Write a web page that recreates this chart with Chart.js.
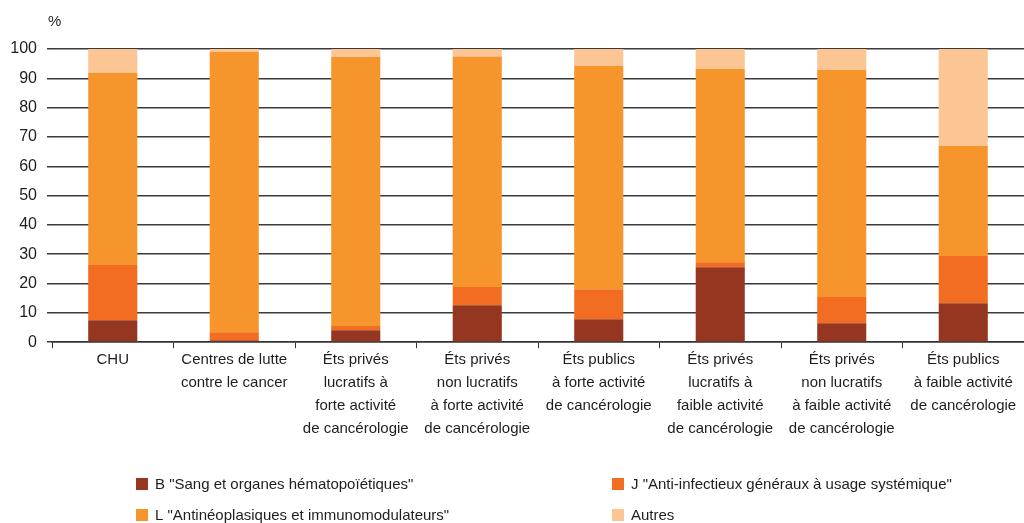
<!DOCTYPE html>
<html lang="fr">
<head>
<meta charset="utf-8">
<title>Dépenses de médicaments par classe ATC et type d'établissement</title>
<script src="https://cdn.jsdelivr.net/npm/chart.js@4/dist/chart.umd.min.js"></script>
<style>
  html, body { margin: 0; padding: 0; background: #fff; }
  #wrap { width: 1024px; height: 523px; position: relative; }
</style>
</head>
<body>
<div id="wrap"><canvas id="chart" width="1024" height="523"></canvas></div>
<script>
// Catégories d'établissements (libellés sur plusieurs lignes)
const categories = [
  ["CHU"],
  ["Centres de lutte", "contre le cancer"],
  ["Éts privés", "lucratifs à", "forte activité", "de cancérologie"],
  ["Éts privés", "non lucratifs", "à forte activité", "de cancérologie"],
  ["Éts publics", "à forte activité", "de cancérologie"],
  ["Éts privés", "lucratifs à", "faible activité", "de cancérologie"],
  ["Éts privés", "non lucratifs", "à faible activité", "de cancérologie"],
  ["Éts publics", "à faible activité", "de cancérologie"]
];

// Parts (%) par classe ATC
const sangOrganes      = [7.5, 0.7, 4.1, 12.6, 7.8, 25.6, 6.5, 13.3];
const antiInfectieux   = [18.8, 2.7, 1.4, 6.2, 10.3, 1.7, 8.9, 16.1];
const antineoplasiques = [65.6, 95.7, 91.8, 78.6, 76.1, 65.9, 77.4, 37.6];
const autres           = [8.1, 0.9, 2.7, 2.6, 5.8, 6.8, 7.2, 33.0];

const seriesLabels = [
  'B "Sang et organes hématopoïétiques"',
  'J "Anti-infectieux généraux à usage systémique"',
  'L "Antinéoplasiques et immunomodulateurs"',
  'Autres'
];
const yTicks = [0, 10, 20, 30, 40, 50, 60, 70, 80, 90, 100];

const colors = ['#953720', '#f26d21', '#f7952d', '#fbc693'];
const FONT = '"Liberation Sans", Arial, sans-serif';
const TEXT = '#1e1e1e';

// Légende en deux colonnes et unité de l'axe vertical
const extrasPlugin = {
  id: 'extras',
  afterDraw(chart) {
    const ctx = chart.ctx;
    ctx.save();
    ctx.font = '15px ' + FONT;
    ctx.fillStyle = TEXT;
    ctx.textBaseline = 'middle';
    ctx.textAlign = 'left';
    ctx.fillText('%', 48, 22);
    const cols = [136, 612];
    const rows = [484, 515];
    chart.data.datasets.forEach((ds, i) => {
      const x = cols[i % 2];
      const y = rows[Math.floor(i / 2)];
      ctx.fillStyle = ds.backgroundColor;
      ctx.fillRect(x, y - 6, 12, 12);
      ctx.fillStyle = TEXT;
      ctx.fillText(ds.label, x + 19, y + 1);
    });
    ctx.restore();
  }
};

const values = [sangOrganes, antiInfectieux, antineoplasiques, autres];

new Chart(document.getElementById('chart'), {
  type: 'bar',
  data: {
    labels: categories,
    datasets: values.map((v, i) => ({
      label: seriesLabels[i],
      data: v,
      backgroundColor: colors[i],
      borderWidth: 0,
      categoryPercentage: 1,
      barPercentage: 0.404
    }))
  },
  options: {
    responsive: false,
    animation: false,
    devicePixelRatio: 1,
    layout: { padding: { top: 49, right: 0, bottom: 83, left: 0 } },
    plugins: {
      legend: { display: false },
      tooltip: { enabled: false },
      title: { display: false }
    },
    scales: {
      x: {
        stacked: true,
        grid: {
          offset: true,
          drawOnChartArea: false,
          drawTicks: true,
          tickLength: 6,
          color: '#333',
          lineWidth: 1
        },
        border: { display: true, color: '#333', width: 1.5 },
        ticks: {
          color: TEXT,
          font: { family: FONT, size: 15, lineHeight: 1.53 },
          padding: 0,
          maxRotation: 0,
          autoSkip: false
        }
      },
      y: {
        stacked: true,
        min: 0,
        max: 100,
        afterFit(scale) { scale.width = 52; },
        afterBuildTicks(scale) { scale.ticks = yTicks.map(v => ({ value: v })); },
        grid: {
          drawTicks: true,
          tickLength: 5,
          color: '#3a3a3a',
          lineWidth: 1.5
        },
        border: { display: false },
        ticks: {
          color: TEXT,
          font: { family: FONT, size: 16 },
          padding: 10
        }
      }
    }
  },
  plugins: [extrasPlugin]
});
</script>
</body>
</html>
